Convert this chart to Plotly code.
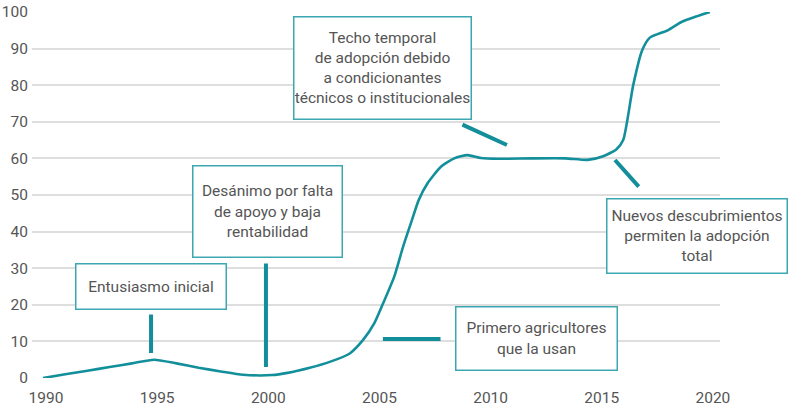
import plotly.graph_objects as go

# Curve
years = [1990, 1991, 1992, 1993, 1994, 1995, 1996, 1997, 1998, 1999, 2000.3, 2001, 2002,
         2002.9, 2003.8, 2004.4, 2004.9, 2005.3, 2005.8, 2006.2, 2006.6, 2006.9, 2007.3,
         2007.9, 2008.5, 2009.1, 2009.7, 2010.5, 2012, 2013.5, 2014.5, 2015.2, 2015.8,
         2016.1, 2016.55, 2016.95, 2017.3, 2018.1, 2018.7, 2019.4, 2020]
values = [0, 1, 2, 3, 4, 5, 4, 2.8, 1.8, 0.9, 0.8, 1.4, 2.8,
          4.4, 6.7, 10.4, 14.9, 20.4, 27.7, 35.9, 43.2, 48.6, 53.2,
          57.7, 60.0, 60.9, 60.1, 59.9, 60, 60, 59.6, 60.6, 62.5,
          65, 80, 89.5, 93, 95, 97.2, 98.8, 100]

x_ticks = [1990, 1995, 2000, 2005, 2010, 2015, 2020]
y_ticks = [0, 10, 20, 30, 40, 50, 60, 70, 80, 90, 100]

labels = [
    "Entusiasmo inicial",
    "Desánimo por falta<br>de apoyo y baja<br>rentabilidad",
    "Techo temporal<br>de adopción debido<br>a condicionantes<br>técnicos o institucionales",
    "Nuevos descubrimientos<br>permiten la adopción<br>total",
    "Primero agricultores<br>que la usan",
]

TEAL = "#138f9b"
BOX = "#3ca7b1"
TXT = "#555555"
FONT = "Roboto, sans-serif"
FS = 15.5

fig = go.Figure()
fig.add_trace(go.Scatter(
    x=years, y=values, mode="lines",
    line=dict(color=TEAL, width=2.6, shape="spline", smoothing=0.6),
    cliponaxis=False, hoverinfo="skip",
))

# text boxes: (x center, y center, width, height)
boxes = [
    (1994.84, 24.9, 151, 46),
    (2000.12, 45.4, 150, 92),
    (2005.25, 84.6, 178, 103),
    (2019.40, 38.9, 181, 75),
    (2012.22, 10.66, 162, 64),
]
for (bx, by, bw, bh), t in zip(boxes, labels):
    fig.add_annotation(
        x=bx, y=by, xref="x", yref="y", text=t, showarrow=False,
        width=bw - 2, height=bh - 2, align="center", valign="middle",
        bordercolor=BOX, borderwidth=1.5, borderpad=0, bgcolor="white",
        font=dict(family=FONT, size=FS, color=TXT),
    )

# arrows: (tail x, tail y, tip x, tip y)
arrows = [
    (1994.86, 17.76, 1994.86, 6.83),
    (2000.03, 31.7, 2000.03, 3.0),
    (2008.80, 69.4, 2010.87, 63.66),
    (2016.86, 51.9, 2015.73, 59.56),
    (2007.95, 10.66, 2005.29, 10.66),
]
for ax_, ay_, x_, y_ in arrows:
    fig.add_annotation(
        x=x_, y=y_, ax=ax_, ay=ay_, xref="x", yref="y", axref="x", ayref="y",
        text="", showarrow=True, arrowhead=0, arrowwidth=4, arrowcolor=TEAL,
        standoff=0, startstandoff=0,
    )

fig.update_layout(
    width=792, height=410,
    margin=dict(l=32, r=72, t=12, b=32, autoexpand=False),
    paper_bgcolor="white", plot_bgcolor="white",
    showlegend=False,
    font=dict(family=FONT, size=FS, color=TXT),
)
fig.update_xaxes(
    range=[1989.505, 2020.455], tickvals=x_ticks, ticktext=[str(v) for v in x_ticks],
    showgrid=False, zeroline=False, showline=False, ticks="", automargin=False,
    ticklabelstandoff=8, ticklabelshift=3,
    tickfont=dict(family=FONT, size=FS, color=TXT),
)
fig.update_yaxes(
    range=[0, 100], tickvals=y_ticks, ticktext=[str(v) for v in y_ticks],
    showgrid=True, gridcolor="#dedede", gridwidth=1.5,
    zeroline=False, showline=False, ticks="", automargin=False,
    ticklabelstandoff=3,
    tickfont=dict(family=FONT, size=FS, color=TXT),
)

fig.write_html("out.html", config={"displayModeBar": False},
               post_script="document.body.style.margin='0';")
